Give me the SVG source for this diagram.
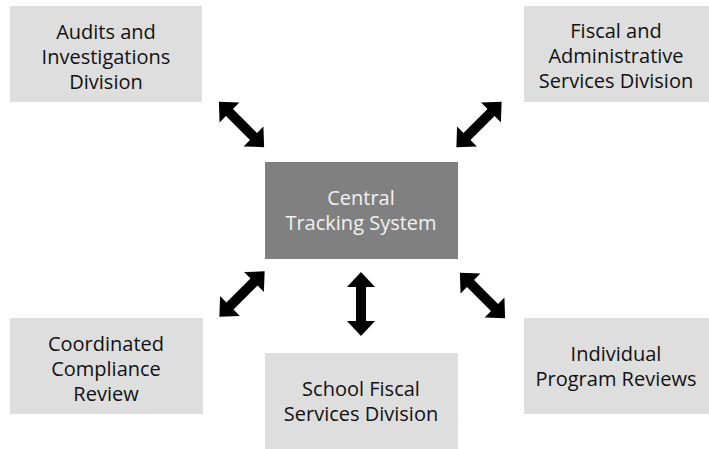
<svg xmlns="http://www.w3.org/2000/svg" xmlns:xlink="http://www.w3.org/1999/xlink" width="709" height="449" viewBox="0 0 709 449">
  <style>
    .box { fill: #dedede; }
    .hub { fill: #808080; }
    .lbl { font-family: "Open Sans", "Noto Sans", "DejaVu Sans", sans-serif; font-size: 20px; fill: #111111; text-anchor: middle; }
    .hub-lbl { fill: #f2f2f2; }
    .arrow { fill: #000; }
  </style>
  <defs>
    <!-- double-headed block arrow, 64 long, centred on the origin along x -->
    <polygon id="dbl-arrow" class="arrow" points="-32,0 -17,-14 -17,-5 17,-5 17,-14 32,0 17,14 17,5 -17,5 -17,14"/>
  </defs>
  <rect width="709" height="449" fill="#ffffff"/>

  <g id="audits">
    <rect class="box" x="10" y="6" width="192" height="96"/>
    <text class="lbl" x="106" y="39">Audits and</text>
    <text class="lbl" x="106" y="64">Investigations</text>
    <text class="lbl" x="106" y="89">Division</text>
  </g>

  <g id="fiscal-admin">
    <rect class="box" x="524" y="6" width="185" height="96"/>
    <text class="lbl" x="616" y="38">Fiscal and</text>
    <text class="lbl" x="616" y="63">Administrative</text>
    <text class="lbl" x="616" y="88">Services Division</text>
  </g>

  <g id="central">
    <rect class="hub" x="265" y="162" width="193" height="97"/>
    <text class="lbl hub-lbl" x="361" y="205">Central</text>
    <text class="lbl hub-lbl" x="361" y="230">Tracking System</text>
  </g>

  <g id="coordinated">
    <rect class="box" x="10" y="318" width="193" height="96"/>
    <text class="lbl" x="106" y="351">Coordinated</text>
    <text class="lbl" x="106" y="376">Compliance</text>
    <text class="lbl" x="106" y="401">Review</text>
  </g>

  <g id="school-fiscal">
    <rect class="box" x="265" y="353" width="193" height="96"/>
    <text class="lbl" x="361" y="396">School Fiscal</text>
    <text class="lbl" x="361" y="421">Services Division</text>
  </g>

  <g id="individual">
    <rect class="box" x="524" y="318" width="185" height="96"/>
    <text class="lbl" x="616" y="361">Individual</text>
    <text class="lbl" x="616" y="386">Program Reviews</text>
  </g>

  <g id="connectors">
    <use xlink:href="#dbl-arrow" transform="translate(241.5,124.5) rotate(45)"/>
    <use xlink:href="#dbl-arrow" transform="translate(479,124.5) rotate(135)"/>
    <use xlink:href="#dbl-arrow" transform="translate(242,294) rotate(135)"/>
    <use xlink:href="#dbl-arrow" transform="translate(361,304) rotate(90)"/>
    <use xlink:href="#dbl-arrow" transform="translate(482.5,295.5) rotate(45)"/>
  </g>
</svg>
